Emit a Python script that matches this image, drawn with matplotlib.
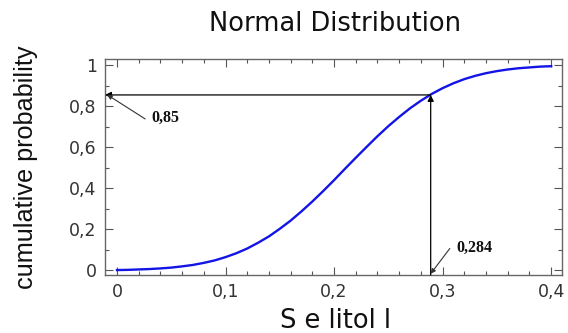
import matplotlib
matplotlib.use("Agg")
import matplotlib.pyplot as plt
from matplotlib.ticker import MultipleLocator, FuncFormatter

# Values
x_vals = [0.00, 0.01, 0.02, 0.03, 0.04, 0.05, 0.06, 0.07, 0.08, 0.09, 0.10,
          0.11, 0.12, 0.13, 0.14, 0.15, 0.16, 0.17, 0.18, 0.19, 0.20,
          0.21, 0.22, 0.23, 0.24, 0.25, 0.26, 0.27, 0.28, 0.29, 0.30,
          0.31, 0.32, 0.33, 0.34, 0.35, 0.36, 0.37, 0.38, 0.39, 0.40]
cum_prob = [0.002, 0.003, 0.005, 0.007, 0.010, 0.014, 0.020, 0.027, 0.037, 0.049, 0.065,
            0.084, 0.107, 0.135, 0.166, 0.203, 0.243, 0.288, 0.336, 0.387, 0.440,
            0.495, 0.549, 0.602, 0.654, 0.703, 0.748, 0.790, 0.827, 0.860, 0.888,
            0.912, 0.932, 0.948, 0.961, 0.971, 0.979, 0.985, 0.989, 0.993, 0.995]

marker_x = 0.289
marker_y = 0.855
label_x = "0,284"
label_y = "0,85"

xlim = (-0.011, 0.410)
ylim = (-0.022, 1.03)

fig = plt.figure(figsize=(5.68, 3.33), dpi=100)
ax = fig.add_axes([0.1849, 0.1742, 0.8046, 0.6486])

ax.plot(x_vals, cum_prob, color="#1414e6", lw=1.7, zorder=3)
ax.set_xlim(*xlim)
ax.set_ylim(*ylim)

# horizontal arrow to y-axis
ax.annotate("", xy=(xlim[0], marker_y), xytext=(marker_x, marker_y),
            arrowprops=dict(arrowstyle="-|>", color="black", lw=0.9,
                            mutation_scale=9, shrinkA=0, shrinkB=0))
# vertical arrow from x-axis up to the curve
ax.annotate("", xy=(marker_x, marker_y), xytext=(marker_x, ylim[0]),
            arrowprops=dict(arrowstyle="-|>", color="black", lw=0.9,
                            mutation_scale=9, shrinkA=0, shrinkB=0))

serif = dict(family=["Liberation Serif", "DejaVu Serif"], fontweight="bold",
             fontsize=11.5, color="#111111")
ax.text(0.045, 0.743, label_y, ha="center", va="center", **serif)
ax.annotate("", xy=(-0.009, 0.856), xytext=(0.026, 0.738),
            arrowprops=dict(arrowstyle="-|>", color="#333333", lw=0.8,
                            mutation_scale=7, shrinkA=0, shrinkB=0))
ax.text(0.329, 0.111, label_x, ha="center", va="center", **serif)
ax.annotate("", xy=(marker_x, ylim[0] + 0.006), xytext=(0.3066, 0.107),
            arrowprops=dict(arrowstyle="-|>", color="#333333", lw=0.8,
                            mutation_scale=7, shrinkA=0, shrinkB=0))

ax.xaxis.set_major_locator(MultipleLocator(0.1))
ax.xaxis.set_minor_locator(MultipleLocator(0.02))
ax.yaxis.set_major_locator(MultipleLocator(0.2))
ax.yaxis.set_minor_locator(MultipleLocator(0.1))

def comma(v, pos):
    s = ("%.1f" % v).rstrip("0").rstrip(".")
    if s == "-0":
        s = "0"
    return s.replace(".", ",")

ax.xaxis.set_major_formatter(FuncFormatter(comma))
ax.yaxis.set_major_formatter(FuncFormatter(comma))

ax.tick_params(which="both", direction="in", top=True, right=True, color="#555555")
ax.tick_params(which="major", length=6, width=0.8, labelsize=12.5, pad=6,
               labelcolor="#333333")
ax.tick_params(which="minor", length=3, width=0.8)
for lab in ax.get_xticklabels() + ax.get_yticklabels():
    lab.set_family(["DejaVu Sans"])
for sp in ax.spines.values():
    sp.set_color("#666666")
    sp.set_linewidth(1.0)

fig.text(0.5907, 0.928, "Normal Distribution", ha="center", va="center",
         fontsize=18.5, family=["DejaVu Sans"], color="#111111")
fig.text(0.5907, 0.036, "S e litol l", ha="center", va="center",
         fontsize=18.5, family=["DejaVu Sans"], color="#111111")
fig.text(0.046, 0.498, "cumulative probability", ha="center", va="center", rotation=90,
         fontsize=18.2, family=["Liberation Sans Narrow", "Liberation Sans", "DejaVu Sans"],
         color="#111111")

fig.savefig("out.png", dpi=100)
